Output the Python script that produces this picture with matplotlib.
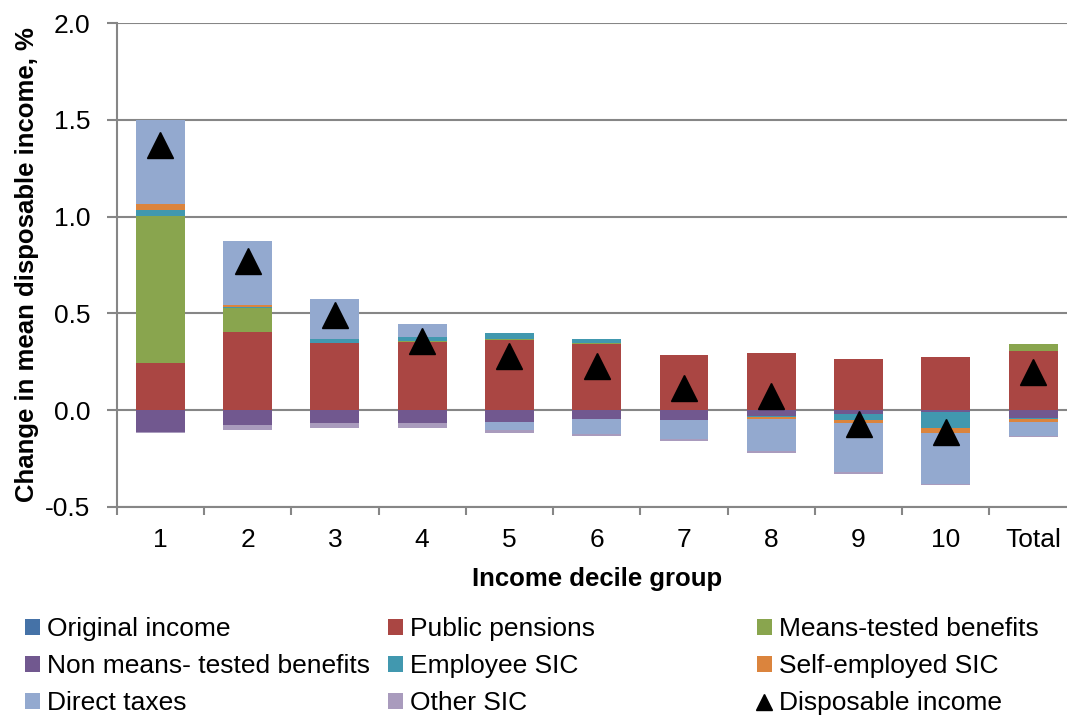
import matplotlib
matplotlib.use("Agg")
import matplotlib.pyplot as plt
from matplotlib.patches import Patch
from matplotlib.lines import Line2D
import numpy as np

plt.rcParams['font.family'] = ['Liberation Sans', 'DejaVu Sans']

categories = ['1', '2', '3', '4', '5', '6', '7', '8', '9', '10', 'Total']
original_income = [0, 0, 0, 0, 0, 0, 0, 0, 0, 0, 0]
public_pensions = [0.245, 0.406, 0.345, 0.353, 0.363, 0.342, 0.282, 0.297, 0.266, 0.274, 0.305]
means_tested = [0.758, 0.122, 0.0, 0.004, 0.004, 0.004, 0.004, 0.0, 0.0, 0.0, 0.038]
non_means_tested = [-0.112, -0.077, -0.069, -0.069, -0.060, -0.048, -0.051, -0.031, -0.021, -0.009, -0.040]
employee_sic = [0.029, 0.007, 0.022, 0.020, 0.029, 0.023, 0.0, -0.007, -0.030, -0.082, -0.008]
self_employed_sic = [0.031, 0.010, 0.0, 0.0, 0.0, 0.0, 0.0, -0.010, -0.018, -0.029, -0.012]
direct_taxes = [0.437, 0.329, 0.208, 0.069, -0.043, -0.077, -0.100, -0.166, -0.253, -0.262, -0.072]
other_sic = [-0.008, -0.026, -0.022, -0.022, -0.017, -0.007, -0.009, -0.006, -0.009, -0.007, -0.008]
disposable_income = [1.37, 0.77, 0.49, 0.355, 0.28, 0.23, 0.115, 0.07, -0.07, -0.113, 0.195]

series = [
    ('Original income', original_income, '#4572A7'),
    ('Public pensions', public_pensions, '#AA4643'),
    ('Means-tested benefits', means_tested, '#89A54E'),
    ('Non means- tested benefits', non_means_tested, '#71588F'),
    ('Employee SIC', employee_sic, '#4198AF'),
    ('Self-employed SIC', self_employed_sic, '#DB843D'),
    ('Direct taxes', direct_taxes, '#93A9CF'),
    ('Other SIC', other_sic, '#A99BBD'),
]

W, H = 1067, 716
fig = plt.figure(figsize=(W / 100, H / 100), dpi=100)
ax = fig.add_axes([116.7 / W, 1 - 506.7 / H, 960 / W, (506.7 - 23.3) / H])

x = np.arange(len(categories))
pos_base = np.zeros(len(categories))
neg_base = np.zeros(len(categories))
handles = {}
for name, vals, col in series:
    v = np.array(vals, dtype=float)
    pos = np.where(v > 0, v, 0)
    neg = np.where(v < 0, v, 0)
    ax.bar(x, pos, 0.56, bottom=pos_base, color=col, zorder=3, linewidth=0)
    ax.bar(x, neg, 0.56, bottom=neg_base, color=col, zorder=3, linewidth=0)
    pos_base += pos
    neg_base += neg
    handles[name] = Patch(facecolor=col, edgecolor='none')

ax.plot(x, disposable_income, linestyle='none', marker='^', color='black',
        markersize=19, zorder=5)
handles['Disposable income'] = Line2D([], [], linestyle='none', marker='^',
                                      color='black', markersize=11)

ax.set_xlim(-0.5, len(categories) - 0.5)
ax.set_ylim(-0.5, 2.0)
ax.set_yticks([-0.5, 0.0, 0.5, 1.0, 1.5, 2.0])
ax.set_yticklabels(['-0.5', '0.0', '0.5', '1.0', '1.5', '2.0'])
ax.set_xticks(x)
ax.set_xticklabels(categories)
ax.set_xticks(np.arange(-0.5, len(categories), 1.0), minor=True)
ax.tick_params(axis='x', which='major', length=0, pad=15, labelsize=19)
ax.tick_params(axis='x', which='minor', length=6, width=1.5, color='#868686')
ax.tick_params(axis='y', length=7, width=1.5, color='#868686', pad=12, labelsize=19)
ax.grid(axis='y', color='#868686', linewidth=1.5, zorder=0)
for s in ['top', 'right']:
    ax.spines[s].set_visible(False)
for s in ['left', 'bottom']:
    ax.spines[s].set_color('#868686')
    ax.spines[s].set_linewidth(1.5)

ax.set_xlabel('Income decile group', fontsize=18.5, fontweight='bold', labelpad=11)
fig.text(27 / W, 1 - 265 / H, 'Change in mean disposable income, %', rotation=90,
         fontsize=18.5, fontweight='bold', ha='center', va='center')

cols = [
    (['Original income', 'Non means- tested benefits', 'Direct taxes'], 25),
    (['Public pensions', 'Employee SIC', 'Other SIC'], 388),
    (['Means-tested benefits', 'Self-employed SIC', 'Disposable income'], 757),
]
for names, xpix in cols:
    fig.legend([handles[n] for n in names], names, loc='upper left',
               bbox_to_anchor=(xpix / W, 1 - 617 / H), frameon=False,
               fontsize=19, handlelength=0.55, handleheight=0.55,
               handletextpad=0.3, labelspacing=0.5, borderaxespad=0,
               borderpad=0)

fig.savefig('out.png', dpi=100)
